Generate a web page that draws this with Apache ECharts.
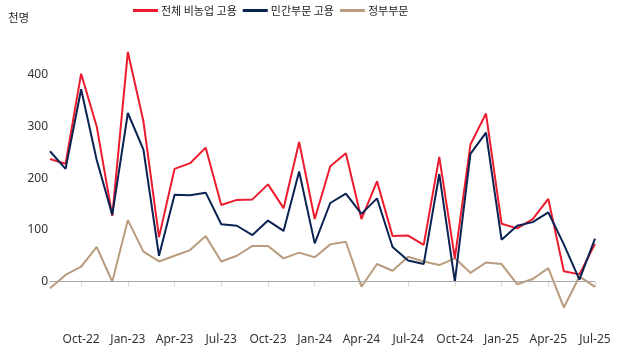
<!DOCTYPE html>
<html>
<head>
<meta charset="utf-8">
<script src="https://cdn.jsdelivr.net/npm/echarts@6/dist/echarts.min.js"></script>
<style>
  html, body { margin: 0; padding: 0; background: #fff; }
  #chart { width: 624px; height: 349px; }
</style>
</head>
<body>
<div id="chart"></div>
<script>
// Monthly payroll changes, thousands of persons
const months = [
  'Aug-22', 'Sep-22', 'Oct-22', 'Nov-22', 'Dec-22',
  'Jan-23', 'Feb-23', 'Mar-23', 'Apr-23', 'May-23', 'Jun-23', 'Jul-23',
  'Aug-23', 'Sep-23', 'Oct-23', 'Nov-23', 'Dec-23',
  'Jan-24', 'Feb-24', 'Mar-24', 'Apr-24', 'May-24', 'Jun-24', 'Jul-24',
  'Aug-24', 'Sep-24', 'Oct-24', 'Nov-24', 'Dec-24',
  'Jan-25', 'Feb-25', 'Mar-25', 'Apr-25', 'May-25', 'Jun-25', 'Jul-25'
];
const totalNonfarm = [237, 228, 402, 300, 127, 444, 310, 86, 218, 229, 259, 148,
  158, 159, 188, 142, 270, 121, 223, 248, 121, 194, 88, 89,
  71, 241, 45, 265, 325, 112, 103, 121, 160, 20, 14, 73];
const privateSector = [252, 218, 372, 235, 129, 326, 255, 50, 168, 167, 172, 111,
  108, 90, 118, 98, 213, 74, 152, 170, 131, 161, 67, 41,
  34, 208, 0, 247, 288, 81, 108, 115, 134, 72, 4, 83];
const government = [-13, 13, 29, 67, 0, 119, 58, 39, 50, 61, 88, 39,
  50, 69, 69, 45, 56, 47, 72, 77, -10, 34, 21, 48,
  39, 32, 45, 17, 37, 34, -5, 5, 26, -50, 10, -10];
const yTicks = [0, 100, 200, 300, 400];
const seriesNames = ['전체 비농업 고용', '민간부문 고용', '정부부문'];

const RED = '#EC1C2E';
const NAVY = '#0B2352';
const TAN = '#B99B7D';

const chart = echarts.init(document.getElementById('chart'), null, { renderer: 'canvas' });
const quarterly = (idx) => idx % 3 === 2;

chart.setOption({
  animation: false,
  backgroundColor: '#fff',
  textStyle: { fontFamily: 'Noto Sans, Noto Sans CJK KR, sans-serif' },
  graphic: [{
    type: 'text', left: 8, top: 12,
    style: { text: '천명', fontSize: 11.5, fill: '#222', fontFamily: 'Noto Sans CJK KR' }
  }],
  legend: {
    left: 128, top: 0,
    itemWidth: 25, itemHeight: 3, itemGap: 6,
    icon: 'rect',
    data: seriesNames,
    textStyle: { fontSize: 11, color: '#222', fontFamily: 'Noto Sans CJK KR', padding: [0, 0, 0, -2] }
  },
  grid: { left: 50, right: 29, top: 23, bottom: 26, containLabel: false },
  xAxis: {
    type: 'category',
    data: months,
    boundaryGap: false,
    axisLine: { lineStyle: { color: '#D9D9D9', width: 1 } },
    axisTick: { interval: quarterly, length: 5, lineStyle: { color: '#D9D9D9' } },
    axisLabel: { interval: quarterly, fontSize: 12, color: '#333', margin: 11 },
    splitLine: { show: false }
  },
  yAxis: {
    type: 'value',
    min: -80, max: 500,
    axisLine: { show: false },
    axisTick: { show: false },
    splitLine: { show: false },
    axisLabel: { customValues: yTicks, fontSize: 12, color: '#333', margin: 2 }
  },
  series: [
    {
      name: seriesNames[2], type: 'line', data: government, symbol: 'none',
      lineStyle: { color: TAN, width: 2 }, itemStyle: { color: TAN }, z: 2,
      markLine: {
        silent: true, symbol: 'none', label: { show: false },
        lineStyle: { color: '#A6A6A6', width: 1, type: 'solid' },
        data: [{ yAxis: 0 }]
      }
    },
    {
      name: seriesNames[0], type: 'line', data: totalNonfarm, symbol: 'none',
      lineStyle: { color: RED, width: 2 }, itemStyle: { color: RED }, z: 3
    },
    {
      name: seriesNames[1], type: 'line', data: privateSector, symbol: 'none',
      lineStyle: { color: NAVY, width: 2 }, itemStyle: { color: NAVY }, z: 4
    }
  ]
});
</script>
</body>
</html>
